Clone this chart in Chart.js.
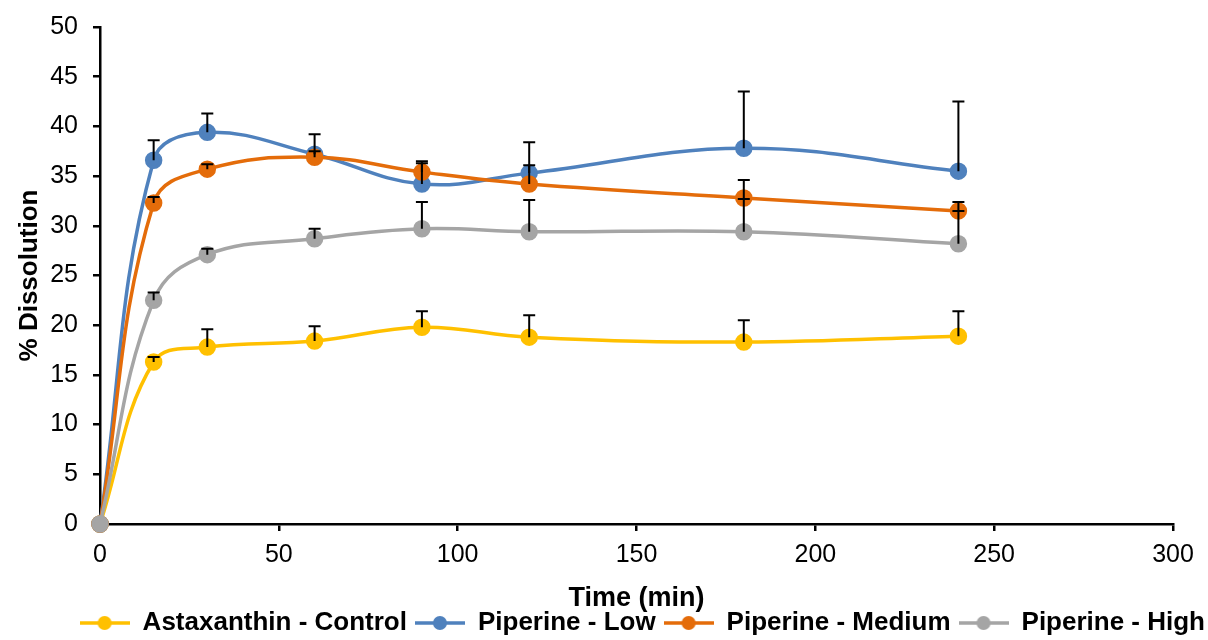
<!DOCTYPE html>
<html>
<head>
<meta charset="utf-8">
<script src="https://cdn.jsdelivr.net/npm/chart.js@4"></script>
<style>
  html, body { margin: 0; padding: 0; background: #fff; }
  #wrap { width: 1208px; height: 640px; position: relative; }
</style>
</head>
<body>
<div id="wrap"><canvas id="chart"></canvas></div>
<script>
// sampling times (min)
const times = [0, 15, 30, 60, 90, 120, 180, 240];

// % dissolution
const control = [0, 16.3, 17.8, 18.4, 19.8, 18.8, 18.3, 18.9];
const controlErr = [0, 0.5, 1.8, 1.5, 1.6, 2.2, 2.2, 2.5];

const low = [0, 36.6, 39.4, 37.2, 34.2, 35.3, 37.8, 35.5];
const lowErr = [0, 2.0, 1.9, 2.0, 2.3, 3.1, 5.7, 7.0];

const medium = [0, 32.3, 35.7, 36.9, 35.4, 34.2, 32.8, 31.5];
const mediumErr = [0, 0.6, 0.5, 0.6, 0.9, 1.9, 1.8, 0.9];

const high = [0, 22.5, 27.1, 28.7, 29.7, 29.4, 29.4, 28.2];
const highErr = [0, 0.8, 0.6, 1.0, 2.7, 3.2, 3.3, 3.3];

const xTicks = [0, 50, 100, 150, 200, 250, 300];
const yTicks = [0, 5, 10, 15, 20, 25, 30, 35, 40, 45, 50];

const FONT = "'Liberation Sans', Arial, sans-serif";

// legend swatch: short line with a dot in the middle
function swatch(color) {
    const c = document.createElement('canvas');
    c.width = 50; c.height = 16;
    const g = c.getContext('2d');
    g.strokeStyle = color;
    g.lineWidth = 3.5;
    g.beginPath(); g.moveTo(0, 8); g.lineTo(50, 8); g.stroke();
    g.fillStyle = color;
    g.beginPath(); g.arc(25, 8, 7, 0, Math.PI * 2); g.fill();
    return c;
}

function series(label, values, errs, color, order) {
    return {
        label: label,
        data: times.map((t, i) => ({ x: t, y: values[i] })),
        errors: errs,
        borderColor: color,
        backgroundColor: color,
        pointBackgroundColor: color,
        pointBorderColor: color,
        pointRadius: 7,
        pointHoverRadius: 7,
        borderWidth: 3.5,
        tension: 0.4,
        clip: false,
        pointStyle: 'circle',
        legendSwatch: swatch(color),
        order: order
    };
}

// upper error bars with caps, in black
const errorBars = {
    id: 'errorBars',
    afterDatasetsDraw(chart) {
        const ctx = chart.ctx;
        const ys = chart.scales.y;
        ctx.save();
        ctx.strokeStyle = '#000';
        ctx.lineWidth = 2;
        chart.data.datasets.forEach((ds, di) => {
            const meta = chart.getDatasetMeta(di);
            meta.data.forEach((pt, i) => {
                const e = ds.errors[i];
                if (!e) return;
                const top = ys.getPixelForValue(ds.data[i].y + e);
                ctx.beginPath();
                ctx.moveTo(pt.x, pt.y);
                ctx.lineTo(pt.x, top);
                ctx.moveTo(pt.x - 6, top);
                ctx.lineTo(pt.x + 6, top);
                ctx.stroke();
            });
        });
        ctx.restore();
    }
};

const ctx = document.getElementById('chart').getContext('2d');
new Chart(ctx, {
    type: 'line',
    data: {
        datasets: [
            series('Astaxanthin - Control', control, controlErr, '#FFC000', 4),
            series('Piperine - Low', low, lowErr, '#4F81BD', 3),
            series('Piperine - Medium', medium, mediumErr, '#E46C0A', 2),
            series('Piperine - High', high, highErr, '#A5A5A5', 1)
        ]
    },
    options: {
        responsive: true,
        maintainAspectRatio: false,
        animation: false,
        layout: { padding: { top: 27, right: -5, left: 0, bottom: -6 } },
        plugins: {
            tooltip: { enabled: false },
            legend: {
                position: 'bottom',
                align: 'end',
                labels: {
                    usePointStyle: true,
                    pointStyleWidth: 50,
                    padding: 8,
                    color: '#000',
                    font: { family: FONT, size: 26, weight: 'bold' },
                    sort: (a, b) => a.datasetIndex - b.datasetIndex,
                    generateLabels(chart) {
                        return chart.data.datasets.map((ds, i) => ({
                            text: ds.label,
                            pointStyle: ds.legendSwatch,
                            fillStyle: ds.borderColor,
                            strokeStyle: ds.borderColor,
                            lineWidth: 0,
                            fontColor: '#000',
                            datasetIndex: i,
                            hidden: false
                        }));
                    }
                }
            }
        },
        scales: {
            x: {
                type: 'linear',
                min: 0,
                max: 300,
                afterBuildTicks: s => { s.ticks = xTicks.map(v => ({ value: v })); },
                afterFit: s => { s.height = 78; s.paddingRight = 35; },
                border: { color: '#000', width: 2.5 },
                grid: { drawOnChartArea: false, color: '#000', tickLength: 7, lineWidth: 2.5 },
                ticks: { color: '#000', padding: 9, maxRotation: 0, font: { family: FONT, size: 25 } },
                title: {
                    display: true,
                    text: 'Time (min)',
                    color: '#000',
                    font: { family: FONT, size: 27, weight: 'bold', lineHeight: 1 },
                    padding: { top: 0, bottom: -10 }
                }
            },
            y: {
                min: 0,
                max: 50,
                afterBuildTicks: s => { s.ticks = yTicks.map(v => ({ value: v })); },
                afterFit: s => { s.width = 100; s.paddingTop = 0; },
                border: { color: '#000', width: 2.5 },
                grid: { drawOnChartArea: false, color: '#000', tickLength: 7, lineWidth: 2.5 },
                ticks: { color: '#000', padding: 15, font: { family: FONT, size: 25 } },
                title: {
                    display: true,
                    text: '% Dissolution',
                    color: '#000',
                    font: { family: FONT, size: 26, weight: 'bold', lineHeight: 1 },
                    padding: { top: 17, bottom: 0 }
                }
            }
        }
    },
    plugins: [errorBars]
});
</script>
</body>
</html>
